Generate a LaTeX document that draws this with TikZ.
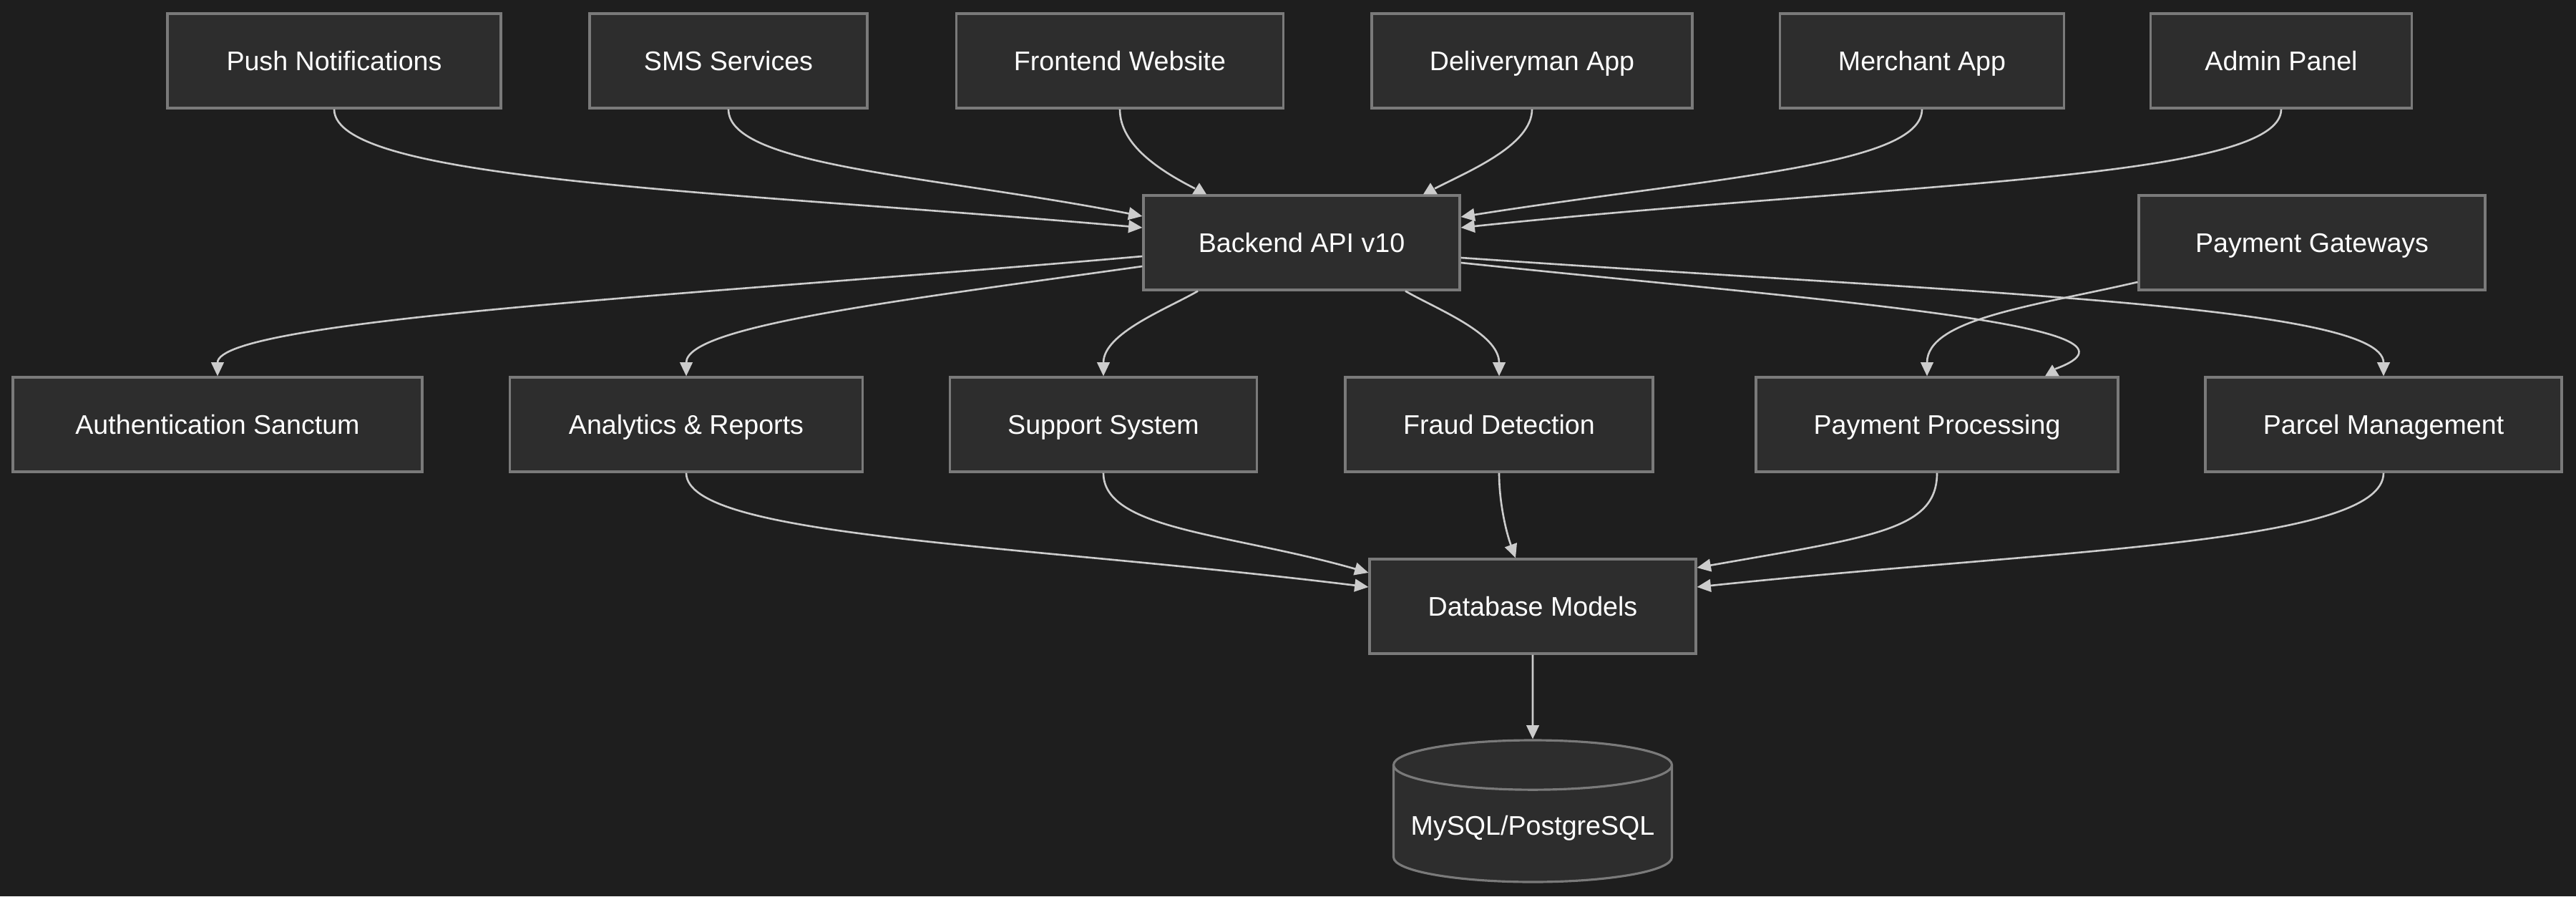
\documentclass[tikz,border=0pt]{standalone}
\usepackage{fontspec}
\setmainfont{Liberation Sans}
\usetikzlibrary{arrows.meta,shapes.geometric}
\definecolor{bgcol}{RGB}{30,30,30}
\definecolor{boxfill}{RGB}{45,45,45}
\definecolor{boxline}{RGB}{122,122,122}
\definecolor{edgecol}{RGB}{204,204,204}
% upward marker sitting on a node's top edge
\newcommand{\uptip}[1]{\fill[edgecol] (#1) ++(-0.1,0) -- ++(0.2,0) -- ++(-0.1,0.16) -- cycle;}

\begin{document}
\begin{tikzpicture}[font=\fontsize{10.7}{13}\selectfont,
  arr/.style={-{Triangle[length=5.5pt,width=5pt]},edgecol,line width=0.75pt},
  link/.style={edgecol,line width=0.75pt},
  box/.style={draw=boxline,fill=boxfill,line width=0.9pt,text=white,
    minimum height=1.32cm,inner sep=0pt,text height=7.7pt,text depth=0pt},
  store/.style={cylinder,shape border rotate=90,aspect=0.19,draw=boxline,
    fill=boxfill,line width=0.9pt,text=white}]
% background
\fill[bgcol] (0,0) rectangle (36,12.52);
% top row: clients and services
\node[box,minimum width=4.66cm] (push)  at (4.67,11.67)  {Push Notifications};
\node[box,minimum width=3.88cm] (sms)   at (10.18,11.67) {SMS Services};
\node[box,minimum width=4.57cm] (front) at (15.65,11.67) {Frontend Website};
\node[box,minimum width=4.48cm] (deliv) at (21.41,11.67) {Deliveryman App};
\node[box,minimum width=3.97cm] (merch) at (26.86,11.67) {Merchant App};
\node[box,minimum width=3.65cm] (admin) at (31.88,11.67) {Admin Panel};
% api and gateways
\node[box,minimum width=4.42cm] (api)   at (18.19,9.13)  {Backend API v10};
\node[box,minimum width=4.84cm] (paygw) at (32.31,9.13)  {Payment Gateways};
% middle row: modules
\node[box,minimum width=5.72cm] (auth)    at (3.04,6.59)  {Authentication Sanctum};
\node[box,minimum width=4.93cm] (analyt)  at (9.59,6.59)  {Analytics \& Reports};
\node[box,minimum width=4.29cm] (support) at (15.42,6.59) {Support System};
\node[box,minimum width=4.30cm] (fraud)   at (20.95,6.59) {Fraud Detection};
\node[box,minimum width=5.06cm] (payproc) at (27.07,6.59) {Payment Processing};
\node[box,minimum width=4.98cm] (parcel)  at (33.31,6.59) {Parcel Management};
% models and storage
\node[box,minimum width=4.56cm] (db) at (21.42,4.05) {Database Models};
\node[store,minimum width=3.89cm,minimum height=1.98cm] (sql) at (21.42,0.95)
  {MySQL/PostgreSQL};
% top row -> api
\draw[arr] (push.south) to[out=-90,in=175,out distance=1cm,in distance=6cm]
  ([yshift=0.21cm]api.west);
\draw[arr] (sms.south) to[out=-90,in=169,out distance=0.8cm,in distance=3cm]
  ([yshift=0.37cm]api.west);
\draw[link] (front.south) to[out=-90,in=153,out distance=0.5cm,in distance=0.55cm]
  ([xshift=-1.49cm,yshift=0.08cm]api.north);
\uptip{[xshift=-1.43cm]api.north}
\draw[link] (deliv.south) to[out=-90,in=27,out distance=0.5cm,in distance=0.55cm]
  ([xshift=1.86cm,yshift=0.08cm]api.north);
\uptip{[xshift=1.8cm]api.north}
\draw[arr] (merch.south) to[out=-90,in=9,out distance=0.8cm,in distance=3.5cm]
  ([yshift=0.36cm]api.east);
\draw[arr] (admin.south) to[out=-90,in=6,out distance=1cm,in distance=6cm]
  ([yshift=0.21cm]api.east);
% api -> modules
\draw[arr] ([yshift=-0.19cm]api.west) to[out=185,in=90,out distance=6cm,in distance=0.8cm]
  (auth.north);
\draw[arr] ([yshift=-0.33cm]api.west) to[out=188,in=90,out distance=3.5cm,in distance=0.7cm]
  (analyt.north);
\draw[arr] ([xshift=-1.45cm]api.south) to[out=210,in=90,out distance=0.5cm,in distance=0.6cm]
  (support.north);
\draw[arr] ([xshift=1.45cm]api.south) to[out=-30,in=90,out distance=0.5cm,in distance=0.6cm]
  (fraud.north);
\draw[link] ([yshift=-0.28cm]api.east) to[out=-6,in=20,out distance=5cm,in distance=1.8cm]
  ([xshift=1.65cm,yshift=0.1cm]payproc.north);
\uptip{[xshift=1.61cm]payproc.north}
\draw[arr] ([yshift=-0.21cm]api.east) to[out=-4,in=90,out distance=7cm,in distance=1cm]
  (parcel.north);
\draw[arr] ([yshift=-0.55cm]paygw.west) to[out=193,in=90,out distance=1.5cm,in distance=0.8cm]
  ([xshift=-0.14cm]payproc.north);
% modules -> models
\draw[arr] (analyt.south) to[out=-90,in=173,out distance=0.9cm,in distance=5cm]
  ([yshift=0.27cm]db.west);
\draw[arr] (support.south) to[out=-90,in=164,out distance=0.8cm,in distance=2cm]
  ([yshift=0.47cm]db.west);
\draw[arr] (fraud.south) to[out=-90,in=110,out distance=0.4cm,in distance=0.4cm]
  ([xshift=-0.24cm]db.north);
\draw[arr] (payproc.south) to[out=-90,in=10,out distance=0.8cm,in distance=2.5cm]
  ([yshift=0.54cm]db.east);
\draw[arr] (parcel.south) to[out=-90,in=6,out distance=1cm,in distance=5cm]
  ([yshift=0.27cm]db.east);
% models -> storage
\draw[arr] (db.south) -- (sql.north);
\end{tikzpicture}
\end{document}
